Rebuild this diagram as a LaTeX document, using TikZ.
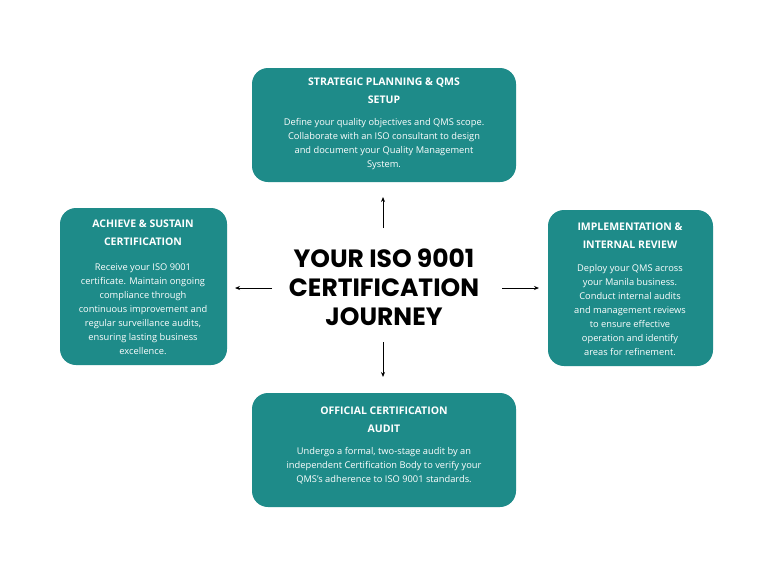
\documentclass[tikz,border=0pt]{standalone}
\usepackage{fontspec}
\usetikzlibrary{arrows.meta}
\setmainfont{Open Sans}
\newfontfamily\titlefont{Poppins}
\definecolor{teal1}{HTML}{1E8B89}
\tikzset{
 card/.style={fill=teal1,rounded corners=16pt,draw=none},
 ttl/.style={text=white,font=\fontsize{10.5}{18}\selectfont\bfseries,align=center},
 body/.style={text=white,font=\fontsize{9.3}{14}\selectfont,align=center},
 arr/.style={-{Stealth[length=5pt,width=4pt]},line width=0.9pt}
}
\begin{document}
\begin{tikzpicture}[x=1pt,y=-1pt]
\useasboundingbox (0,0) rectangle (768,576);
\fill[white] (0,0) rectangle (768,576);
% boxes
\draw[card] (252,68) rectangle (516,182);
\draw[card] (60,208) rectangle (227,365);
\draw[card] (548,210) rectangle (713,366);
\draw[card] (252,393) rectangle (516,507);
% texts
\node[ttl] (t1) at (384,91) {STRATEGIC PLANNING \& QMS\\SETUP};
\node[body] (b1) at (384,144) {Define your quality objectives and QMS scope.\\Collaborate with an ISO consultant to design\\and document your Quality Management\\System.};
\node[ttl] (t2) at (143,233) {ACHIEVE \& SUSTAIN\\CERTIFICATION};
\node[body] (b2) at (143,309) {Receive your ISO 9001\\certificate. Maintain ongoing\\compliance through\\continuous improvement and\\regular surveillance audits,\\ensuring lasting business\\excellence.};
\node[ttl] (t3) at (630,236) {IMPLEMENTATION \&\\INTERNAL REVIEW};
\node[body] (b3) at (630,310) {Deploy your QMS across\\your Manila business.\\Conduct internal audits\\and management reviews\\to ensure effective\\operation and identify\\areas for refinement.};
\node[ttl] (t4) at (384,420) {OFFICIAL CERTIFICATION\\AUDIT};
\node[body] (b4) at (384,466) {Undergo a formal, two-stage audit by an\\independent Certification Body to verify your\\QMS's adherence to ISO 9001 standards.};
% center
\node[font=\titlefont\fontsize{25}{29}\selectfont\bfseries,align=center] (c) at (384,287) {YOUR ISO 9001\\CERTIFICATION\\JOURNEY};
\coordinate (cu) at (383,228); \coordinate (cd) at (383,342);
\coordinate (cl) at (272,288); \coordinate (cr) at (502,288);
\coordinate (eu) at (383,197); \coordinate (ed) at (383,377);
\coordinate (el) at (235,288); \coordinate (er) at (539,288);
\draw[arr] (cu) -- (eu);
\draw[arr] (cd) -- (ed);
\draw[arr] (cl) -- (el);
\draw[arr] (cr) -- (er);
\end{tikzpicture}
\end{document}
